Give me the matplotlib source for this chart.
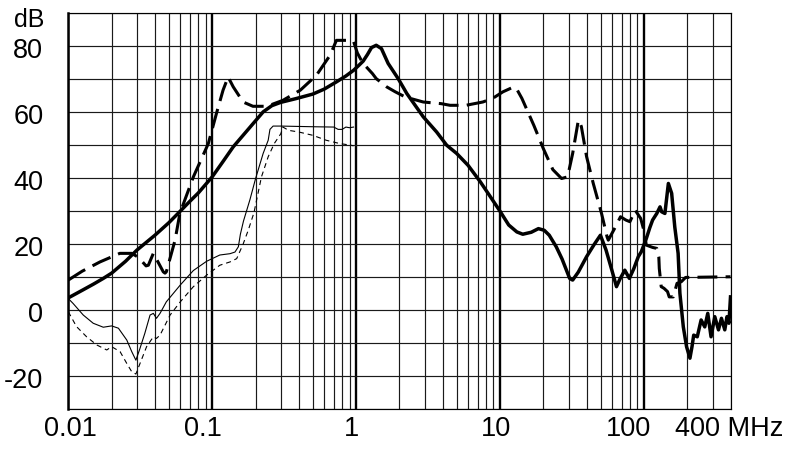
import numpy as np
import matplotlib
matplotlib.use('Agg')
import matplotlib.pyplot as plt
from matplotlib.transforms import ScaledTranslation, blended_transform_factory
from matplotlib.ticker import FixedLocator, LogLocator, MultipleLocator, NullFormatter

# ---------------- data (frequency in MHz, level in dB) ----------------
thick_solid_f = [0.01, 0.0125, 0.015, 0.0175, 0.02, 0.025, 0.03, 0.04, 0.05, 0.06, 0.07, 0.08,
                 0.1, 0.12, 0.14, 0.17, 0.2, 0.226, 0.26, 0.3, 0.38, 0.5, 0.6, 0.73,
                 0.85, 0.96, 1.05, 1.12, 1.2, 1.28, 1.38, 1.5, 1.67, 1.96, 2.25, 2.93,
                 3.63, 4.26, 5.0, 6.0, 7.3, 8.75, 10, 11.5, 13.1, 14.4, 16.5, 18.5,
                 20.3, 22, 24.6, 27, 30.5, 32, 35, 40, 45, 49.9, 54.6, 60, 64.5, 68,
                 73.7, 79.3, 85, 91.5, 96, 104, 110, 115, 123, 129.5, 133, 140, 148,
                 156, 164, 173, 178, 188, 198, 209, 216, 222, 235, 250, 265, 278, 293,
                 311, 330, 346, 365, 378, 390, 400]
thick_solid_db = [3.7, 6.0, 7.9, 9.6, 11.2, 14.8, 18.2, 22.7, 26.5, 30.0, 33.0, 35.5,
                  40.4, 45.3, 49.5, 53.8, 57.4, 60.1, 62.0, 63.0, 64.1, 65.5, 67.0, 69.2,
                  71.0, 72.7, 74.3, 75.5, 77.5, 79.6, 80.3, 79.3, 74.8, 70.2, 65.7, 58.6,
                  54.0, 50.0, 47.5, 43.9, 38.9, 33.8, 30.0, 25.8, 23.7, 23.0, 23.6, 24.7,
                  24.2, 22.7, 19.2, 15.5, 9.6, 9.1, 11.5, 16.2, 19.8, 22.7, 18.2, 12.0, 7.1, 9.3,
                  12.1, 9.6, 12.5, 16.2, 17.7, 21.7, 25.0, 27.3, 29.3, 31.3, 29.8, 29.3, 38.4,
                  35.4, 25.2, 17.2, 5.1, -5.1, -11.1, -14.6, -11.1, -7.6, -8.1, -3.0, -5.1, -1.0, -8.1,
                  -2.0, -6.0, -2.5, -6.0, -2.0, -4.0, 4.0]

thick_dash_f = [0.01, 0.0125, 0.0166, 0.0228, 0.0276, 0.0307, 0.0347, 0.036, 0.039, 0.042,
                0.0457, 0.047, 0.048, 0.0552, 0.0596, 0.074, 0.094, 0.107, 0.119, 0.129,
                0.14, 0.164, 0.192, 0.24, 0.31, 0.41, 0.53, 0.66, 0.73, 0.86, 0.96, 1.02,
                1.07, 1.12, 1.3, 1.38, 1.63, 1.87, 2.2, 2.93, 3.9, 4.5, 5.8, 7.6, 8.9, 10.5,
                12.5, 13.2, 14.2, 17.2, 20, 23.3, 26.8, 29.5, 32, 34.9, 35.4, 36.8, 40,
                44.5, 50.8, 55.5, 56.6, 63.4, 68.8, 75, 80, 87, 95, 100, 104, 115, 123,
                127, 128, 132, 138, 146, 150, 160, 170, 182, 195, 400]
thick_dash_db = [9.1, 11.8, 14.6, 17.2, 17.2, 16.0, 13.4, 13.6, 17.2, 14.6,
                 11.6, 11.2, 11.6, 21.2, 29.3, 40.4, 50.5, 59.6, 66.7, 70.7,
                 67.7, 63.1, 61.8, 61.8, 63.6, 66.7, 71.2, 77.3, 81.8, 81.8, 81.5, 78.0,
                 76.3, 74.8, 71.7, 70.2, 67.7, 66.2, 64.6, 63.1, 62.6, 62.1, 62.1, 63.1, 64.2, 66.2,
                 67.7, 66.7, 64.2, 56.0, 49.0, 42.6, 39.9, 40.4, 47.5, 57.1, 57.6, 55.6, 46.5,
                 38.4, 29.3, 22.2, 21.2, 25.2, 28.3, 27.3, 26.8, 30.3, 27.8, 24.2, 19.7, 19.0, 18.7,
                 16.2, 12.6, 7.1, 6.6, 5.6, 4.0, 4.0, 8.1, 8.6, 9.9, 10.1]

thin_solid_f = [0.01, 0.0108, 0.0127, 0.0149, 0.0175, 0.02, 0.0223, 0.0255, 0.0276, 0.0295,
                0.0315, 0.034, 0.037, 0.039, 0.041, 0.0434, 0.048, 0.06, 0.074, 0.0915,
                0.113, 0.133, 0.144, 0.152, 0.157, 0.165, 0.183, 0.2, 0.226, 0.245, 0.252,
                0.265, 0.3, 0.5, 0.7, 0.75, 0.8, 0.85, 0.9, 0.96]
thin_solid_db = [3.5, 2.0, -1.5, -4.0, -5.2, -4.8, -5.5, -9.1, -12.6, -15.2,
                 -11.6, -7.1, -1.5, -1.0, -2.5, -1.0, 2.5, 7.6, 12.0, 14.8,
                 16.7, 17.1, 17.6, 19.2, 23.0, 27.0, 33.5, 39.8, 47.5, 51.5, 54.8,
                 55.8, 55.8, 55.6, 55.5, 54.8, 54.8, 55.5, 55.3, 55.5]

thin_dash_f = [0.01, 0.0114, 0.0134, 0.0158, 0.0185, 0.02, 0.0229, 0.0255, 0.0276, 0.0295,
               0.0315, 0.035, 0.039, 0.041, 0.0434, 0.051, 0.06, 0.074, 0.0915, 0.113,
               0.133, 0.148, 0.164, 0.178, 0.195, 0.22, 0.245, 0.27, 0.3, 0.31, 0.34,
               0.4, 0.5, 0.62, 0.77, 0.92, 0.96]
thin_dash_db = [-0.5, -5.0, -8.1, -10.6, -12.1, -11.1, -12.6, -16.2, -18.7, -19.4,
                -16.2, -11.1, -8.1, -8.6, -7.6, -1.5, 2.5, 7.1, 10.6, 13.6,
                14.6, 15.6, 20.0, 24.2, 29.5, 40.4, 46.5, 50.5, 53.5, 55.5, 54.5,
                54.0, 53.0, 51.5, 50.5, 50.0, 49.8]

x_tick_values = [0.01, 0.1, 1, 10, 100, 400]
x_tick_labels = ['0.01', '0.1', '1', '10', '100', '400 MHz']
y_tick_values = [-20, 0, 20, 40, 60, 80]
y_tick_labels = ['-20', '0', '20', '40', '60', '80']
y_unit_label = 'dB'

# ---------------- style / layout ----------------
W, H = 790, 453
x_label_dx = [1.7, -9.5, -4.5, -4.0, -15.0, -1.0]   # pixel nudges of x labels
FS = 19.5

plt.rcParams['font.family'] = ['Liberation Sans', 'DejaVu Sans']
fig = plt.figure(figsize=(W / 100, H / 100), dpi=100)
ax = fig.add_axes([68.3 / W, 44 / H, (730.5 - 68.3) / W, (409 - 13.3) / H])
ax.set_xscale('log')
ax.set_xlim(0.01, 400)
ax.set_ylim(-30, 90)

ax.xaxis.set_major_locator(FixedLocator([0.01, 0.1, 1, 10, 100]))
ax.xaxis.set_minor_locator(LogLocator(base=10, subs=np.arange(2, 10), numticks=30))
ax.xaxis.set_minor_formatter(NullFormatter())
ax.yaxis.set_major_locator(MultipleLocator(10))
ax.tick_params(which='both', length=0, labelbottom=False, labelleft=False)
ax.set_axisbelow(True)
ax.grid(which='minor', axis='x', color='#1a1a1a', lw=0.85)
ax.grid(which='major', axis='x', color='black', lw=1.7)
ax.grid(which='major', axis='y', color='#1a1a1a', lw=0.85)
for side in ['top', 'right', 'bottom']:
    ax.spines[side].set_linewidth(0.85)
ax.spines['left'].set_linewidth(1.8)

ax.plot(thin_dash_f, thin_dash_db, color='black', lw=0.8, ls=(0, (4.5, 3.5)), zorder=3)
ax.plot(thin_solid_f, thin_solid_db, color='black', lw=0.8, zorder=3)
ax.plot(thick_dash_f, thick_dash_db, color='black', lw=2.2, ls=(0, (6.5, 2.7)),
        dash_capstyle='butt', zorder=4)
ax.plot(thick_solid_f, thick_solid_db, color='black', lw=2.5, solid_joinstyle='round',
        zorder=5)

# x labels
bx = blended_transform_factory(ax.transData, ax.transAxes)
for v, lab, dx in zip(x_tick_values, x_tick_labels, x_label_dx):
    tr = bx + ScaledTranslation(dx / 100, -7 / 100, fig.dpi_scale_trans)
    ax.text(v, 0, lab, transform=tr, ha='center', va='top', fontsize=FS, clip_on=False)

# y labels
by = blended_transform_factory(ax.transAxes, ax.transData)
for v, lab in zip(y_tick_values, y_tick_labels):
    tr = by + ScaledTranslation(-25 / 100, -5 / 100, fig.dpi_scale_trans)
    ax.text(0, v, lab, transform=tr, ha='right', va='center', fontsize=FS, clip_on=False)

fig.text(29 / W, 1 - 20 / H, y_unit_label, ha='center', va='center', fontsize=18)

fig.savefig('out.png', dpi=100)
